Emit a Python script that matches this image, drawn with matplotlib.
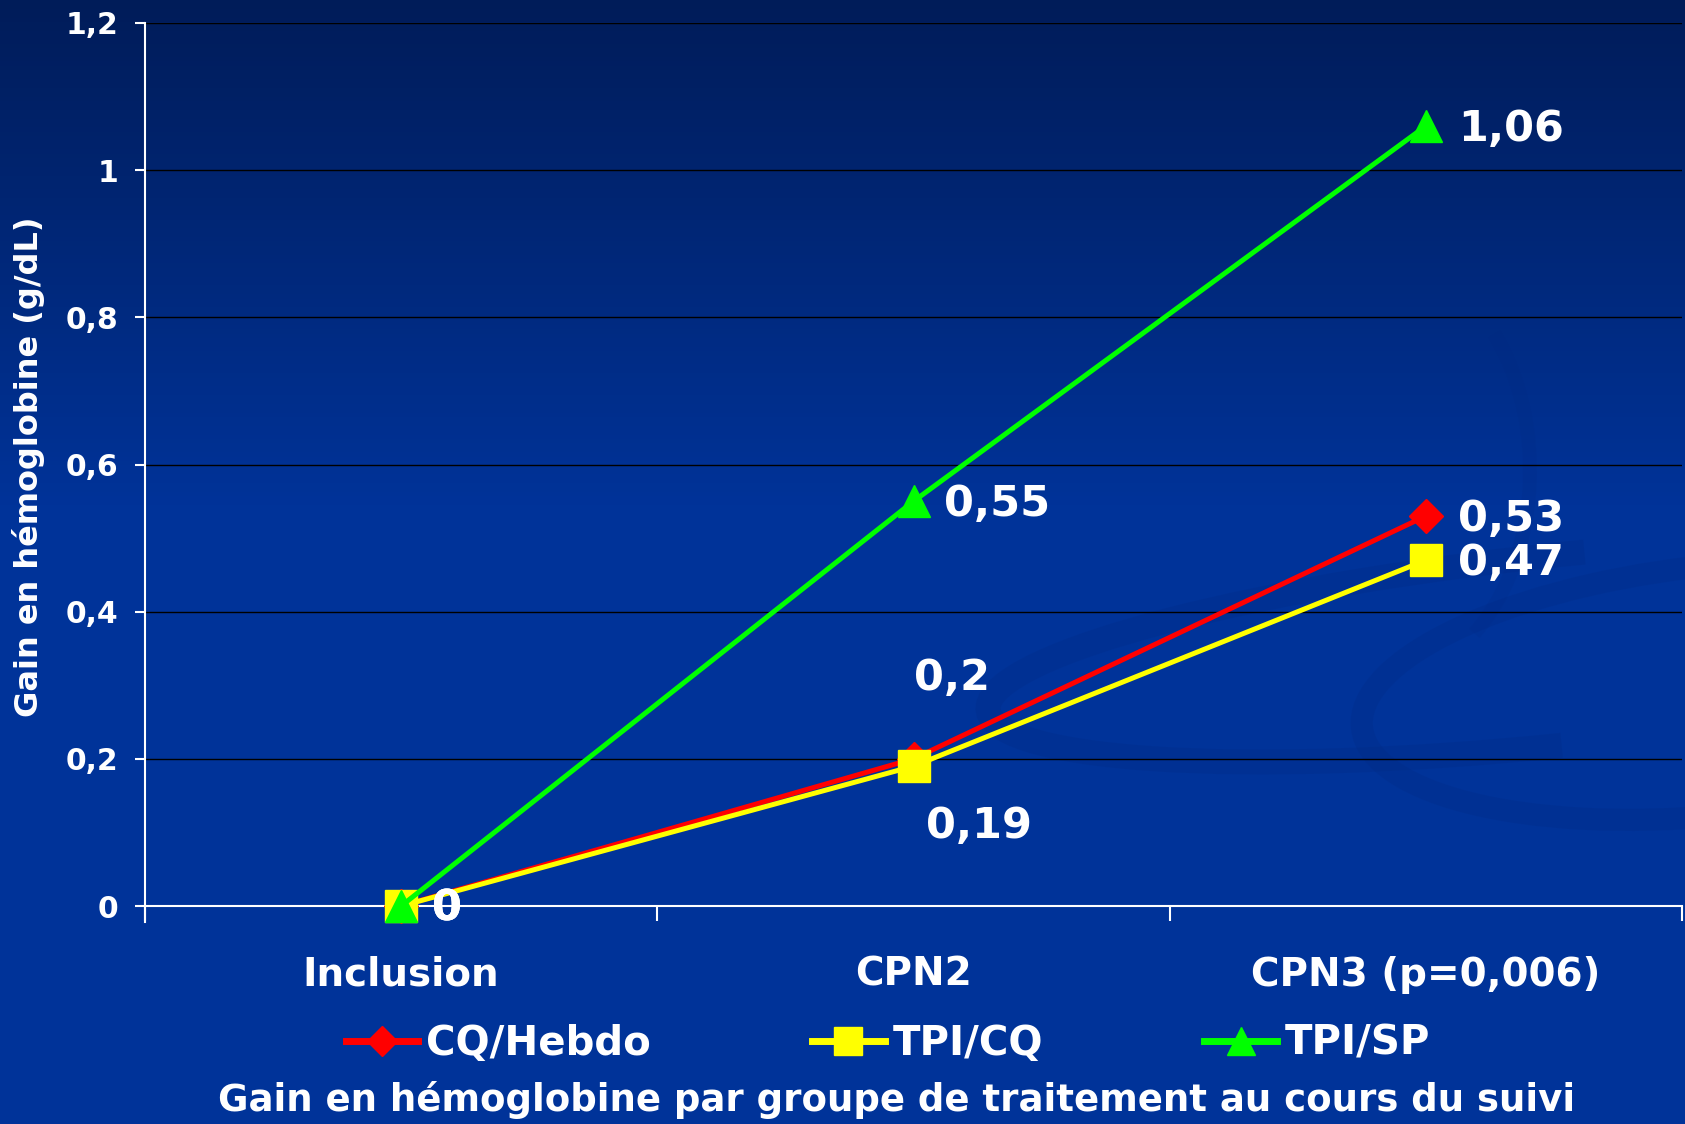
import numpy as np
import matplotlib
matplotlib.use("Agg")
import matplotlib.pyplot as plt
from matplotlib.patches import Arc

# categories and series
visits = ["Inclusion", "CPN2", "CPN3 (p=0,006)"]
cq_hebdo = [0, 0.2, 0.53]
tpi_cq = [0, 0.19, 0.47]
tpi_sp = [0, 0.55, 1.06]
cq_hebdo_labels = ["0", "0,2", "0,53"]
tpi_cq_labels = ["0", "0,19", "0,47"]
tpi_sp_labels = ["0", "0,55", "1,06"]
y_ticks = [0, 0.2, 0.4, 0.6, 0.8, 1.0, 1.2]
y_tick_labels = ["0", "0,2", "0,4", "0,6", "0,8", "1", "1,2"]

plt.rcParams['font.family'] = ['DejaVu Sans']
plt.rcParams['font.weight'] = 'bold'

fig = plt.figure(figsize=(16.85, 11.24), dpi=100)

# background gradient, dark navy at the top to royal blue
bg = fig.add_axes([0, 0, 1, 1], zorder=-10)
grad = np.linspace(0, 1, 256)
top = np.array([0.0, 0.11, 0.35])
mid = np.array([0.0, 0.20, 0.60])
w = np.clip(grad / 0.45, 0, 1)[:, None]
cols = top * (1 - w) + mid * w
bg.imshow(cols[:, None, :], aspect="auto", extent=[0, 1685, 1124, 0])
# faint swirl bands of the slide template
band = (0.0, 0.16, 0.50)
bg.add_patch(Arc((1560, 650), 1150, 190, angle=-6, theta1=95, theta2=290, color=band, lw=18, alpha=0.22))
bg.add_patch(Arc((1720, 690), 720, 250, angle=-6, theta1=95, theta2=280, color=band, lw=16, alpha=0.22))
bg.add_patch(Arc((700, 1250), 2400, 900, angle=0, theta1=20, theta2=95, color=band, lw=22, alpha=0.22))
bg.add_patch(Arc((1380, 470), 300, 420, angle=0, theta1=-50, theta2=60, color=band, lw=10, alpha=0.15))
bg.set_xlim(0, 1685)
bg.set_ylim(1124, 0)
bg.axis("off")

ax = fig.add_axes([145 / 1685, 1 - 906 / 1124, 1537 / 1685, 883 / 1124])
ax.set_facecolor("none")
x = np.arange(len(visits))

ax.plot(x, cq_hebdo, color="#ff0000", lw=3.6, marker="D", ms=17, label="CQ/Hebdo", zorder=3, clip_on=False)
ax.plot(x, tpi_cq, color="#ffff00", lw=3.6, marker="s", ms=23, label="TPI/CQ", zorder=4, clip_on=False)
ax.plot(x, tpi_sp, color="#00ff00", lw=3.6, marker="^", ms=23, label="TPI/SP", zorder=5, clip_on=False)

# data labels (offsets in points)
def put_labels(vals, labs, offs):
    for i in range(len(vals)):
        ax.annotate(labs[i], (x[i], vals[i]), xytext=offs[i], textcoords="offset points",
                    ha="left", va="center", color="white", fontsize=31, fontweight="bold", zorder=6)

put_labels(cq_hebdo, cq_hebdo_labels, [(22, -2), (0, 58), (23, -2)])
put_labels(tpi_cq, tpi_cq_labels, [(22, -2), (9, -43), (23, -2)])
put_labels(tpi_sp, tpi_sp_labels, [(22, -2), (22, -2), (23, -2)])

ax.set_xlim(-0.5, 2.5)
ax.set_ylim(0, 1.2)
ax.set_yticks(y_ticks)
ax.set_yticklabels(y_tick_labels)
ax.set_xticks(x)
ax.set_xticklabels(visits)
ax.set_xticks([-0.5, 0.5, 1.5, 2.5], minor=True)
ax.tick_params(axis="x", which="major", length=0, pad=36, labelsize=28, labelcolor="white")
ax.tick_params(axis="x", which="minor", length=11, width=1.5, color="white", direction="out")
ax.tick_params(axis="y", length=7, width=1.5, color="white", pad=12, labelsize=21.5, labelcolor="white")

ax.grid(axis="y", color="black", lw=1)
ax.set_axisbelow(True)
for s in ["top", "right"]:
    ax.spines[s].set_visible(False)
ax.spines["left"].set_color("white")
ax.spines["bottom"].set_color("white")
ax.spines["left"].set_linewidth(1.5)
ax.spines["bottom"].set_linewidth(1.5)
ax.spines["left"].set_bounds(-0.022, 1.2)

fig.text(29 / 1685, 1 - 467 / 1124, "Gain en hémoglobine (g/dL)", rotation=90,
         ha="center", va="center", color="white", fontsize=23, fontweight="bold")

leg = fig.legend(loc="center", bbox_to_anchor=(0.527, 1 - 1044 / 1124), ncol=3, frameon=False,
                 fontsize=29, handlelength=1.8, columnspacing=4.0, handletextpad=0.2, markerscale=0.9)
for t in leg.get_texts():
    t.set_color("white")
for h in leg.legend_handles:
    h.set_linewidth(5)

fig.text(0.532, 1 - 1100 / 1124, "Gain en hémoglobine par groupe de traitement au cours du suivi",
         ha="center", va="center", color="white", fontsize=26.7, fontweight="bold")

fig.savefig("out.png", dpi=100)
